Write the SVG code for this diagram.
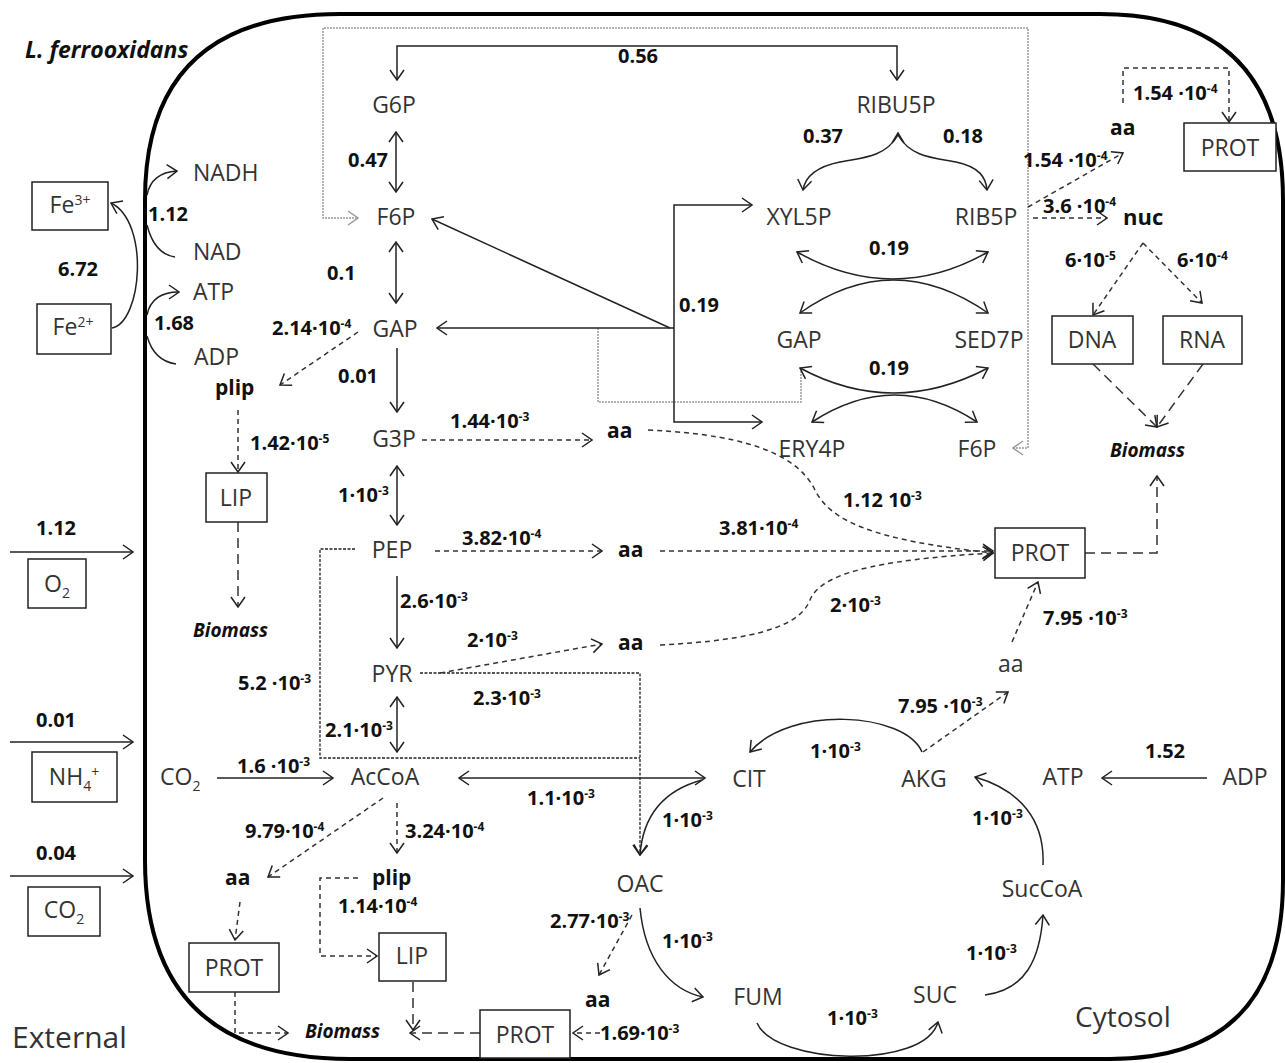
<svg xmlns="http://www.w3.org/2000/svg" width="1285" height="1063" viewBox="0 0 1285 1063">
<style>
text{font-family:'Open Sans','Liberation Sans',sans-serif}
.n{font-size:23px;fill:#333}
.v{font-size:20px;font-weight:bold;fill:#111}
.b{font-size:21px;font-weight:bold;fill:#111}
.bio{font-size:19px;font-weight:bold;font-style:italic;fill:#111}
.box{fill:#fff;stroke:#222;stroke-width:1.5}
.ln{fill:none;stroke:#222;stroke-width:1.5}
.ds{fill:none;stroke:#333;stroke-width:1.5;stroke-dasharray:5 4}
.ld{fill:none;stroke:#333;stroke-width:1.5;stroke-dasharray:10 6}
.dt{fill:none;stroke:#222;stroke-width:1.3;stroke-dasharray:3 1.5}
.gr{fill:none;stroke:#9a9a9a;stroke-width:1.5;stroke-dasharray:2 1}
.m{text-anchor:middle}
</style>
<defs>
<marker id="a" viewBox="0 0 12 16" refX="11" refY="8" markerWidth="12" markerHeight="16" markerUnits="userSpaceOnUse" orient="auto-start-reverse"><path d="M1,1 L11,8 L1,15" fill="none" stroke="#222" stroke-width="1.5" stroke-dasharray="none"/></marker>
<marker id="g" viewBox="0 0 12 16" refX="11" refY="8" markerWidth="12" markerHeight="16" markerUnits="userSpaceOnUse" orient="auto-start-reverse"><path d="M1,1 L11,8 L1,15" fill="none" stroke="#9a9a9a" stroke-width="1.5" stroke-dasharray="none"/></marker>
</defs>
<rect width="1285" height="1063" fill="#fff"/>

<!-- membrane -->
<path id="membrane" d="M145,860 L145,200 Q145,14 340,14 L1100,14 Q1283,14 1283,200 L1283,880 Q1283,1059 1110,1059 L350,1059 Q145,1059 145,860 Z" fill="none" stroke="#000" stroke-width="4"/>
<text x="25" y="58" style="font-size:23px;font-weight:bold;font-style:italic;fill:#111">L. ferrooxidans</text>
<text x="12" y="1048" style="font-size:30px;fill:#333">External</text>
<text x="1075" y="1027" style="font-size:28px;fill:#333">Cytosol</text>

<g id="connectors">
<!-- gray paths -->
<path class="gr" d="M1013,448 L1028,448 L1028,28 L323,28 L323,218 L358,218" marker-start="url(#g)" marker-end="url(#g)"/>
<path class="gr" d="M598,328 L598,402 L801,402 L801,370"/>
<!-- glycolysis -->
<path class="ln" d="M397,80 L397,46 L897,46 L897,80" marker-start="url(#a)" marker-end="url(#a)"/>
<path class="ln" d="M396,132 L396,192" marker-start="url(#a)" marker-end="url(#a)"/>
<path class="ln" d="M396,242 L396,303" marker-start="url(#a)" marker-end="url(#a)"/>
<path class="ln" d="M397,348 L397,412" marker-end="url(#a)"/>
<path class="ln" d="M397,466 L397,525" marker-start="url(#a)" marker-end="url(#a)"/>
<path class="ln" d="M397,576 L397,648" marker-end="url(#a)"/>
<path class="ln" d="M397,697 L397,752" marker-start="url(#a)" marker-end="url(#a)"/>
<path class="ln" d="M217,778 L333,778" marker-end="url(#a)"/>
<path class="ln" d="M459,778 L705,778" marker-start="url(#a)" marker-end="url(#a)"/>
<!-- PPP -->
<path class="ln" d="M670,328 L432,219" marker-end="url(#a)"/>
<path class="ln" d="M674,328 L437,328" marker-end="url(#a)"/>
<path class="ln" d="M752,205 L674,205 L674,422 L762,422" marker-start="url(#a)" marker-end="url(#a)"/>
<path class="ln" d="M898,135 C885,158 860,158 840,162 C815,167 805,178 803,190" marker-end="url(#a)"/>
<path class="ln" d="M898,135 C911,158 936,158 956,162 C980,167 986,178 987,190" marker-end="url(#a)"/>
<path class="ln" d="M892,143 L898,133 L904,143"/>
<path class="ln" d="M797,252 Q893,306 988,252" marker-start="url(#a)" marker-end="url(#a)"/>
<path class="ln" d="M800,313 Q893,247 988,313" marker-start="url(#a)" marker-end="url(#a)"/>
<path class="ln" d="M800,368 Q893,418 988,368" marker-start="url(#a)" marker-end="url(#a)"/>
<path class="ln" d="M812,422 Q895,368 977,422" marker-start="url(#a)" marker-end="url(#a)"/>
<!-- energy -->
<path class="ln" d="M112,328 C142,322 150,222 111,203" marker-end="url(#a)"/>
<path class="ln" d="M147,195 C150,180 160,172 177,171" marker-end="url(#a)"/>
<path class="ln" d="M147,225 C152,245 162,255 175,257"/>
<path class="ln" d="M147,315 C150,300 160,292 179,292" marker-end="url(#a)"/>
<path class="ln" d="M147,336 C152,354 162,362 176,364"/>
<path class="ln" d="M10,552 L133,552" marker-end="url(#a)"/>
<path class="ln" d="M10,742 L133,742" marker-end="url(#a)"/>
<path class="ln" d="M10,876 L133,876" marker-end="url(#a)"/>
<!-- TCA -->
<path class="ln" d="M702,780 C665,790 643,815 640,855" marker-end="url(#a)"/>
<path class="ln" d="M640,908 C645,960 670,990 703,997" marker-end="url(#a)"/>
<path class="ln" d="M757,1023 C775,1065 925,1070 938,1022" marker-end="url(#a)"/>
<path class="ln" d="M985,995 C1025,990 1040,960 1043,915" marker-end="url(#a)"/>
<path class="ln" d="M1043,865 C1045,820 1020,790 975,777" marker-end="url(#a)"/>
<path class="ln" d="M922,752 C905,712 790,705 750,752" marker-end="url(#a)"/>
<path class="ln" d="M1207,778 L1102,778" marker-end="url(#a)"/>
<!-- dotted PEP / PYR -->
<path class="dt" d="M355,549 L320,549 L320,758 L640,758"/>
<path class="dt" d="M420,673 L640,673 L640,855" marker-end="url(#a)"/>
<!-- dashed -->
<path class="ds" d="M358,332 L280,385" marker-end="url(#a)"/>
<path class="ds" d="M238,410 L238,472" marker-end="url(#a)"/>
<path class="ld" d="M238,522 L238,607" marker-end="url(#a)"/>
<path class="ds" d="M422,440 L592,440" marker-end="url(#a)"/>
<path class="ds" d="M648,430 C760,435 800,460 815,490 C830,520 870,540 993,553" marker-end="url(#a)"/>
<path class="ds" d="M435,551 L602,551" marker-end="url(#a)"/>
<path class="ds" d="M660,551 L993,551" marker-end="url(#a)"/>
<path class="ds" d="M440,673 L602,644" marker-end="url(#a)"/>
<path class="ds" d="M660,645 C760,640 800,625 810,600 C820,575 870,560 993,553" marker-end="url(#a)"/>
<path class="ds" d="M383,798 L268,877" marker-end="url(#a)"/>
<path class="ds" d="M240,902 L235,940" marker-end="url(#a)"/>
<path class="ds" d="M235,992 L235,1033 L288,1033" marker-end="url(#a)"/>
<path class="ds" d="M397,803 L397,853" marker-end="url(#a)"/>
<path class="ds" d="M358,878 L320,878 L320,956 L377,956" marker-end="url(#a)"/>
<path class="ld" d="M413,982 L413,1030" marker-end="url(#a)"/>
<path class="ld" d="M480,1033 L410,1033" marker-end="url(#a)"/>
<path class="ds" d="M632,915 L599,975" marker-end="url(#a)"/>
<path class="ds" d="M600,1033 L573,1033" marker-end="url(#a)"/>
<path class="ds" d="M923,752 L1008,692" marker-end="url(#a)"/>
<path class="ds" d="M1012,642 L1038,582" marker-end="url(#a)"/>
<path class="ld" d="M1085,553 L1157,553 L1157,476" marker-end="url(#a)"/>
<path class="ds" d="M1028,207 L1123,153" marker-end="url(#a)"/>
<path class="ds" d="M1033,218 L1107,218" marker-end="url(#a)"/>
<path class="ds" d="M1143,243 L1093,315" marker-end="url(#a)"/>
<path class="ds" d="M1143,243 L1202,303" marker-end="url(#a)"/>
<path class="ld" d="M1093,364 L1157,427" marker-end="url(#a)"/>
<path class="ld" d="M1203,364 L1157,427" marker-end="url(#a)"/>
<path class="ds" d="M1123,103 L1123,68 L1229,68 L1229,122" marker-end="url(#a)"/>
</g>

<g id="flux-labels">
<text class="v" x="618" y="63">0.56</text>
<text class="v" x="348" y="167">0.47</text>
<text class="v" x="327" y="280">0.1</text>
<text class="v" x="272" y="335">2.14·10<tspan dy="-7" font-size="12">-4</tspan></text>
<text class="v" x="338" y="383">0.01</text>
<text class="v" x="250" y="450">1.42·10<tspan dy="-7" font-size="12">-5</tspan></text>
<text class="v" x="450" y="428">1.44·10<tspan dy="-7" font-size="12">-3</tspan></text>
<text class="v" x="338" y="502">1·10<tspan dy="-7" font-size="12">-3</tspan></text>
<text class="v" x="462" y="545">3.82·10<tspan dy="-7" font-size="12">-4</tspan></text>
<text class="v" x="719" y="535">3.81·10<tspan dy="-7" font-size="12">-4</tspan></text>
<text class="v" x="843" y="507">1.12 10<tspan dy="-7" font-size="12">-3</tspan></text>
<text class="v" x="400" y="608">2.6·10<tspan dy="-7" font-size="12">-3</tspan></text>
<text class="v" x="467" y="647">2·10<tspan dy="-7" font-size="12">-3</tspan></text>
<text class="v" x="830" y="612">2·10<tspan dy="-7" font-size="12">-3</tspan></text>
<text class="v" x="238" y="690">5.2 ·10<tspan dy="-7" font-size="12">-3</tspan></text>
<text class="v" x="473" y="705">2.3·10<tspan dy="-7" font-size="12">-3</tspan></text>
<text class="v" x="325" y="737">2.1·10<tspan dy="-7" font-size="12">-3</tspan></text>
<text class="v" x="237" y="773">1.6 ·10<tspan dy="-7" font-size="12">-3</tspan></text>
<text class="v" x="527" y="805">1.1·10<tspan dy="-7" font-size="12">-3</tspan></text>
<text class="v" x="245" y="838">9.79·10<tspan dy="-7" font-size="12">-4</tspan></text>
<text class="v" x="405" y="838">3.24·10<tspan dy="-7" font-size="12">-4</tspan></text>
<text class="v" x="338" y="913">1.14·10<tspan dy="-7" font-size="12">-4</tspan></text>
<text class="v" x="662" y="827">1·10<tspan dy="-7" font-size="12">-3</tspan></text>
<text class="v" x="550" y="928">2.77·10<tspan dy="-7" font-size="12">-3</tspan></text>
<text class="v" x="662" y="948">1·10<tspan dy="-7" font-size="12">-3</tspan></text>
<text class="v" x="600" y="1040">1.69·10<tspan dy="-7" font-size="12">-3</tspan></text>
<text class="v" x="827" y="1025">1·10<tspan dy="-7" font-size="12">-3</tspan></text>
<text class="v" x="966" y="960">1·10<tspan dy="-7" font-size="12">-3</tspan></text>
<text class="v" x="972" y="825">1·10<tspan dy="-7" font-size="12">-3</tspan></text>
<text class="v" x="810" y="758">1·10<tspan dy="-7" font-size="12">-3</tspan></text>
<text class="v" x="898" y="713">7.95 ·10<tspan dy="-7" font-size="12">-3</tspan></text>
<text class="v" x="1043" y="625">7.95 ·10<tspan dy="-7" font-size="12">-3</tspan></text>
<text class="v" x="1145" y="758">1.52</text>
<text class="v" x="803" y="143">0.37</text>
<text class="v" x="943" y="143">0.18</text>
<text class="v" x="679" y="312">0.19</text>
<text class="v" x="869" y="255">0.19</text>
<text class="v" x="869" y="375">0.19</text>
<text class="v" x="1133" y="100">1.54 ·10<tspan dy="-7" font-size="12">-4</tspan></text>
<text class="v" x="1023" y="167">1.54 ·10<tspan dy="-7" font-size="12">-4</tspan></text>
<text class="v" x="1043" y="213">3.6 ·10<tspan dy="-7" font-size="12">-4</tspan></text>
<text class="v" x="1065" y="267">6·10<tspan dy="-7" font-size="12">-5</tspan></text>
<text class="v" x="1177" y="267">6·10<tspan dy="-7" font-size="12">-4</tspan></text>
<text class="v" x="148" y="221">1.12</text>
<text class="v" x="58" y="276">6.72</text>
<text class="v" x="154" y="330">1.68</text>
<text class="v" x="36" y="535">1.12</text>
<text class="v" x="36" y="727">0.01</text>
<text class="v" x="36" y="860">0.04</text>
</g>

<!-- external species -->
<g id="Fe3"><rect class="box" x="32" y="182" width="76" height="48"/><text class="n m" x="70" y="213">Fe<tspan dy="-8" font-size="14">3+</tspan></text></g>
<g id="Fe2"><rect class="box" x="37" y="304" width="74" height="50"/><text class="n m" x="73" y="335">Fe<tspan dy="-8" font-size="14">2+</tspan></text></g>
<g id="O2"><rect class="box" x="28" y="559" width="58" height="49"/><text class="n m" x="57" y="592">O<tspan dy="6" font-size="14">2</tspan></text></g>
<g id="NH4"><rect class="box" x="32" y="752" width="85" height="50"/><text class="n m" x="74" y="785">NH<tspan dy="6" font-size="14">4</tspan><tspan dy="-14" font-size="14">+</tspan></text></g>
<g id="CO2ext"><rect class="box" x="28" y="887" width="72" height="49"/><text class="n m" x="64" y="918">CO<tspan dy="6" font-size="14">2</tspan></text></g>

<!-- energy metabolites -->
<g id="NADH"><text class="n" x="193" y="181">NADH</text></g>
<g id="NAD"><text class="n" x="193" y="260">NAD</text></g>
<g id="ATP1"><text class="n" x="193" y="300">ATP</text></g>
<g id="ADP1"><text class="n" x="194" y="365">ADP</text></g>

<!-- glycolysis nodes -->
<g id="G6P"><text class="n m" x="394" y="113">G6P</text></g>
<g id="F6P"><text class="n m" x="396" y="225">F6P</text></g>
<g id="GAP"><text class="n m" x="395" y="337">GAP</text></g>
<g id="G3P"><text class="n m" x="394" y="447">G3P</text></g>
<g id="PEP"><text class="n m" x="392" y="558">PEP</text></g>
<g id="PYR"><text class="n m" x="392" y="682">PYR</text></g>
<g id="AcCoA"><text class="n m" x="385" y="785">AcCoA</text></g>
<g id="CO2int"><text class="n" x="160" y="785">CO<tspan dy="6" font-size="14">2</tspan></text></g>

<!-- lipid / protein branches left -->
<g id="plip1"><text class="b" x="215" y="395">plip</text></g>
<g id="LIP1"><rect class="box" x="206" y="473" width="61" height="49"/><text class="n m" x="236" y="506">LIP</text></g>
<g id="Biomass1"><text class="bio" x="193" y="637">Biomass</text></g>
<g id="aa_left"><text class="b" x="225" y="885">aa</text></g>
<g id="PROT_bl"><rect class="box" x="189" y="943" width="90" height="49"/><text class="n m" x="234" y="976">PROT</text></g>
<g id="Biomass2"><text class="bio" x="305" y="1038">Biomass</text></g>
<g id="plip2"><text class="b" x="372" y="885">plip</text></g>
<g id="LIP2"><rect class="box" x="379" y="933" width="67" height="48"/><text class="n m" x="412" y="964">LIP</text></g>
<g id="PROT_b"><rect class="box" x="480" y="1010" width="90" height="48"/><text class="n m" x="525" y="1043">PROT</text></g>
<g id="aa_bottom"><text class="b" x="585" y="1007">aa</text></g>

<!-- aa to PROT middle -->
<g id="aa_G3P"><text class="b" x="607" y="438">aa</text></g>
<g id="aa_PEP"><text class="b" x="618" y="557">aa</text></g>
<g id="aa_PYR"><text class="b" x="618" y="650">aa</text></g>
<g id="PROT_m"><rect class="box" x="995" y="528" width="90" height="50"/><text class="n m" x="1040" y="561">PROT</text></g>
<g id="aa_AKG"><text class="n" x="998" y="672">aa</text></g>

<!-- PPP nodes -->
<g id="RIBU5P"><text class="n m" x="896" y="113">RIBU5P</text></g>
<g id="XYL5P"><text class="n m" x="799" y="225">XYL5P</text></g>
<g id="RIB5P"><text class="n m" x="986" y="225">RIB5P</text></g>
<g id="GAP2"><text class="n m" x="799" y="348">GAP</text></g>
<g id="SED7P"><text class="n m" x="989" y="348">SED7P</text></g>
<g id="ERY4P"><text class="n m" x="812" y="457">ERY4P</text></g>
<g id="F6P2"><text class="n m" x="977" y="457">F6P</text></g>

<!-- nucleotide / protein right -->
<g id="aa_top"><text class="b" x="1110" y="135">aa</text></g>
<g id="PROT_tr"><rect class="box" x="1184" y="123" width="92" height="48"/><text class="n m" x="1230" y="156">PROT</text></g>
<g id="nuc"><text class="b" x="1123" y="225" style="font-size:22px">nuc</text></g>
<g id="DNA"><rect class="box" x="1052" y="316" width="81" height="48"/><text class="n m" x="1092" y="348">DNA</text></g>
<g id="RNA"><rect class="box" x="1163" y="316" width="79" height="48"/><text class="n m" x="1202" y="348">RNA</text></g>
<g id="Biomass3"><text class="bio" x="1110" y="457">Biomass</text></g>

<!-- TCA nodes -->
<g id="CIT"><text class="n m" x="749" y="787">CIT</text></g>
<g id="AKG"><text class="n m" x="924" y="787">AKG</text></g>
<g id="OAC"><text class="n m" x="640" y="892">OAC</text></g>
<g id="FUM"><text class="n m" x="758" y="1005">FUM</text></g>
<g id="SUC"><text class="n m" x="935" y="1003">SUC</text></g>
<g id="SucCoA"><text class="n m" x="1042" y="897">SucCoA</text></g>
<g id="ATP2"><text class="n m" x="1063" y="785">ATP</text></g>
<g id="ADP2"><text class="n m" x="1245" y="785">ADP</text></g>
</svg>
